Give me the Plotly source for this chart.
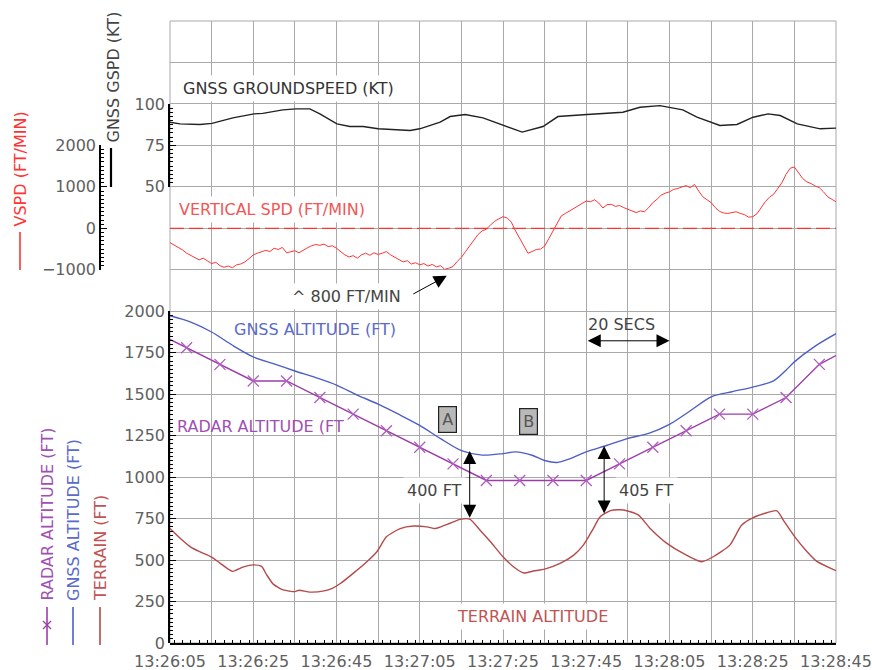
import pandas as pd
import plotly.graph_objects as go

# ---------------- data (seconds after 13:26:05) ----------------
T0 = pd.Timestamp("2000-01-01 13:26:05")
T_END_S = 160

gspd_s = [0, 2.4, 7.2, 10.1, 15.1, 20.2, 22.3, 27.1, 30.3, 33.6, 36, 40.1, 43.2, 46.4, 50,
          57.7, 60, 62.5, 64.9, 67.3, 70.9, 75.2, 80, 84.6, 89.6, 93.2, 100.2, 108.8, 112.9,
          117.7, 123.2, 126.6, 132.1, 136.2, 140.1, 143.7, 146.6, 150.7, 156.2, 160]
gspd_kt = [89, 88, 87.6, 88.3, 91.6, 94, 94.3, 96.4, 97, 97, 94, 88, 86.4, 86.4, 85,
           84, 85, 86.8, 89, 92.4, 93.6, 91.6, 87, 83, 86.4, 92.4, 93.6, 95, 98,
           99, 96.4, 92, 87, 87.6, 92, 94, 93, 88, 85, 85.4]

vspd_s = list(range(0, 161))
vspd_fpm = [-346, -400, -460, -520, -600, -650, -690, -760, -720, -790,
            -850, -820, -900, -940, -910, -950, -880, -860, -810, -730,
            -640, -600, -570, -530, -560, -480, -510, -460, -590, -560,
            -540, -590, -520, -470, -420, -390, -410, -380, -440, -420,
            -480, -560, -640, -690, -660, -720, -640, -600, -650, -590,
            -630, -600, -560, -640, -700, -760, -810, -780, -860, -830,
            -880, -850, -910, -870, -930, -900, -990, -960, -920, -800,
            -700, -560, -420, -300, -150, -60, -20, 80, 170, 230,
            280, 250, 150, -60, -250, -430, -600, -560, -510, -500,
            -430, -250, -60, 120, 300, 360, 420, 460, 540, 600,
            660, 640, 690, 610, 490, 570, 580, 530, 550, 500,
            460, 430, 380, 420, 400, 500, 620, 700, 800, 850,
            880, 940, 960, 1000, 1030, 980, 1060, 900, 760, 690,
            620, 500, 410, 370, 360, 380, 400, 360, 330, 270,
            280, 350, 500, 640, 750, 820, 960, 1100, 1300, 1450,
            1480, 1350, 1200, 1120, 1080, 1020, 980, 880, 760, 700,
            640]

gnss_s = [0, 5, 10, 15, 20, 25, 30, 35, 40, 45, 50, 55, 60, 65, 70, 75, 80, 83, 87,
          90, 93, 96, 100, 105, 110, 115, 120, 125, 130, 135, 140, 145, 148, 150, 155, 160]
gnss_alt = [1973, 1935, 1875, 1795, 1725, 1683, 1640, 1600, 1555, 1495, 1440, 1378, 1312,
            1232, 1160, 1133, 1142, 1152, 1132, 1100, 1088, 1110, 1152, 1192, 1234, 1264,
            1318, 1400, 1484, 1515, 1543, 1580, 1645, 1695, 1790, 1865]

radar_s = [0, 4, 12, 20, 28, 36, 44, 52, 60, 68, 76, 84, 92, 100, 108, 116, 124, 132,
           140, 148, 156, 160]
radar_alt = [1830, 1780, 1680, 1580, 1580, 1480, 1380, 1280, 1180, 1080, 980, 980, 980,
             980, 1080, 1180, 1280, 1380, 1380, 1480, 1680, 1733]

terrain_s = [0, 2.5, 5, 7, 10, 12, 15, 17.5, 20, 22, 23.2, 24.8, 27.2, 30, 31, 33.6, 37, 39,
             41, 44, 47.3, 49.7, 52, 55.3, 58.5, 61.7, 63.7, 65, 67.3, 69.7, 72, 74.5, 77,
             80, 82.5, 85, 87.3, 90, 93.7, 97, 99.3, 101.7, 103.3, 106, 109, 112.5, 115.3,
             119.3, 123.3, 127.7, 130.5, 134.5, 137.3, 140, 145.8, 147.3, 150.2, 153, 155.4, 160]
terrain_alt = [690, 630, 578, 552, 518, 482, 432, 457, 471, 462, 412, 355, 320, 310, 318, 307,
               314, 330, 360, 420, 490, 550, 640, 690, 705, 700, 690, 700, 722, 745, 747, 680,
               610, 520, 460, 422, 434, 445, 480, 530, 590, 690, 760, 800, 802, 772, 692,
               602, 540, 490, 520, 590, 710, 755, 797, 742, 637, 552, 492, 436]

alt_ticks = [0, 250, 500, 750, 1000, 1250, 1500, 1750, 2000]
gspd_ticks = [50, 75, 100]
vspd_ticks = [-1000, 0, 1000, 2000]


def ts(secs):
    return [T0 + pd.Timedelta(seconds=float(s)) for s in secs]


# ---------------- layout geometry helpers ----------------
W, H = 872, 670
ML, MR, MT, MB = 0, 36, 21, 27
PW, PH = W - ML - MR, H - MT - MB


def px(xpix):
    return (xpix - ML) / PW


def py(ypix):
    return (H - MB - ypix) / PH


FONT = "DejaVu Sans"
GRID = "#a9a9a9"
TXT = "#606060"
C_GSPD = "#222222"
C_VSPD = "#ff3434"
C_GNSS = "#4d5ec6"
C_RADAR = "#9a3ea8"
C_TERR = "#b54a4a"

fig = go.Figure()

fig.add_trace(go.Scatter(x=ts(gspd_s), y=gspd_kt, mode="lines", xaxis="x", yaxis="y3",
                         line=dict(color=C_GSPD, width=1.4), hoverinfo="skip"))
fig.add_trace(go.Scatter(x=ts(vspd_s), y=vspd_fpm, mode="lines", xaxis="x", yaxis="y4",
                         line=dict(color=C_VSPD, width=1), hoverinfo="skip"))
fig.add_trace(go.Scatter(x=ts(terrain_s), y=terrain_alt, mode="lines", xaxis="x", yaxis="y2",
                         line=dict(color=C_TERR, width=1.4, shape="spline", smoothing=0.6),
                         hoverinfo="skip"))
fig.add_trace(go.Scatter(x=ts(gnss_s), y=gnss_alt, mode="lines", xaxis="x", yaxis="y2",
                         line=dict(color=C_GNSS, width=1.4, shape="spline", smoothing=0.8),
                         hoverinfo="skip"))
fig.add_trace(go.Scatter(x=ts(radar_s), y=radar_alt, mode="lines", xaxis="x", yaxis="y2",
                         line=dict(color=C_RADAR, width=1.4), hoverinfo="skip"))
fig.add_trace(go.Scatter(x=ts(radar_s[1:-1]), y=radar_alt[1:-1], mode="markers", xaxis="x",
                         yaxis="y2",
                         marker=dict(symbol="x-thin", size=11, line=dict(color="#b05cc0", width=1.3)),
                         hoverinfo="skip"))

tickfont = dict(family=FONT, size=16, color=TXT)
common_y = dict(ticks="inside", ticklen=6, tickcolor="black", showline=True, linecolor="black",
                linewidth=1.5, showgrid=False, zeroline=False, tickfont=tickfont,
                automargin=False)

fig.update_layout(
    width=W, height=H,
    margin=dict(l=ML, r=MR, t=MT, b=MB, autoexpand=False),
    paper_bgcolor="white", plot_bgcolor="rgba(0,0,0,0)",
    showlegend=False,
    font=dict(family=FONT, size=16, color=TXT),
    xaxis=dict(domain=[px(170), 1], type="date",
               range=[T0, T0 + pd.Timedelta(seconds=T_END_S)],
               tick0=T0, dtick=10000, ticklabelstep=2, tickformat="%H:%M:%S",
               showgrid=True, gridcolor=GRID, gridwidth=1,
               ticks="inside", ticklen=6, tickcolor="black", ticklabelstandoff=3,
               minor=dict(dtick=2000, ticks="inside", ticklen=3, tickcolor="black", showgrid=False),
               showline=True, linecolor="black", linewidth=1.5, zeroline=False,
               tickfont=tickfont, anchor="y", automargin=False),
    yaxis=dict(domain=[0, 1], range=[0, 3750], tick0=0, dtick=250, showgrid=True,
               gridcolor=GRID, gridwidth=1, showticklabels=False, ticks="",
               showline=False, zeroline=False, anchor="x", automargin=False),
    yaxis2=dict(domain=[0, 8 / 15], range=[0, 2000], tickvals=alt_ticks, anchor="x",
                minor=dict(dtick=25, ticks="inside", ticklen=3, tickcolor="black", showgrid=False),
                **common_y),
    yaxis3=dict(domain=[11 / 15, 13 / 15], range=[50, 100], tickvals=gspd_ticks, anchor="x",
                minor=dict(dtick=2.5, ticks="inside", ticklen=3, tickcolor="black", showgrid=False),
                **common_y),
    yaxis4=dict(domain=[9 / 15, 12 / 15], range=[-1000, 2000], tickvals=vspd_ticks,
                anchor="free", position=px(100),
                minor=dict(dtick=100, ticks="inside", ticklen=3, tickcolor="black", showgrid=False),
                **common_y),
)

shapes = [
    # plot frame
    dict(type="rect", xref="x domain", yref="y domain", x0=0, x1=1, y0=0, y1=1,
         line=dict(color=GRID, width=1), layer="below"),
    # VSPD zero reference (dashed)
    dict(type="line", xref="x domain", yref="y4", x0=0, x1=1, y0=0, y1=0,
         line=dict(color=C_VSPD, width=1.2, dash="14px,5px"), layer="above"),
    # legend swatches beside rotated titles
    dict(type="line", xref="paper", yref="paper", x0=px(111), x1=px(111), y0=py(148), y1=py(187),
         line=dict(color="black", width=2.2)),
    dict(type="line", xref="paper", yref="paper", x0=px(20), x1=px(20), y0=py(232), y1=py(270),
         line=dict(color=C_VSPD, width=1.6)),
    dict(type="line", xref="paper", yref="paper", x0=px(47), x1=px(47), y0=py(607), y1=py(645),
         line=dict(color=C_RADAR, width=1.6)),
    dict(type="line", xref="paper", yref="paper", x0=px(43), x1=px(51), y0=py(621), y1=py(629),
         line=dict(color=C_RADAR, width=1.3)),
    dict(type="line", xref="paper", yref="paper", x0=px(43), x1=px(51), y0=py(629), y1=py(621),
         line=dict(color=C_RADAR, width=1.3)),
    dict(type="line", xref="paper", yref="paper", x0=px(73), x1=px(73), y0=py(607), y1=py(645),
         line=dict(color=C_GNSS, width=1.6)),
    dict(type="line", xref="paper", yref="paper", x0=px(100), x1=px(100), y0=py(607), y1=py(645),
         line=dict(color=C_TERR, width=1.6)),
]
fig.update_layout(shapes=shapes)

ann = []
# rotated axis titles
for text, xpix, ybot, col in [
    ("GNSS GSPD (KT)", 113, 145, "#444444"),
    ("VSPD (FT/MIN)", 20, 229, C_VSPD),
    ("RADAR ALTITUDE (FT)", 47, 603, "#a050b2"),
    ("GNSS ALTITUDE (FT)", 73, 603, "#5a6bc8"),
    ("TERRAIN (FT)", 100, 603, "#c05454"),
]:
    ann.append(dict(text=text, xref="paper", yref="paper", x=px(xpix), y=py(ybot),
                    xanchor="center", yanchor="bottom", textangle=-90, showarrow=False,
                    font=dict(family=FONT, size=16, color=col)))

# in-plot labels (masked background like the original)
for text, xpix, ypix, col, bg in [
    ("GNSS GROUNDSPEED (KT)", 179, 88, "#333333", "white"),
    ("VERTICAL SPD (FT/MIN)", 175, 209, "#f25656", "white"),
    ("GNSS ALTITUDE (FT)", 230, 329, "#5a6bc8", None),
    ("RADAR ALTITUDE (FT", 173, 427, "#a050b2", None),
    ("^ 800 FT/MIN", 288, 296, "#444444", "white"),
    ("400 FT", 403, 490, "#444444", "white"),
    ("405 FT", 615, 490, "#444444", "white"),
    ("20 SECS", 584, 324, "#444444", None),
    ("TERRAIN ALTITUDE", 453, 616, "#c05454", "white"),
]:
    d = dict(text=text, xref="paper", yref="paper", x=px(xpix), y=py(ypix),
             xanchor="left", yanchor="middle", showarrow=False, borderpad=3,
             font=dict(family=FONT, size=16, color=col))
    if bg:
        d["bgcolor"] = bg
    ann.append(d)

# A / B boxes
for text, xpix, ypix in [("A", 447, 419), ("B", 528, 421)]:
    ann.append(dict(text=text, xref="paper", yref="paper", x=px(xpix), y=py(ypix),
                    xanchor="center", yanchor="middle", showarrow=False,
                    bgcolor="#b9b9b9", bordercolor="#222222", borderwidth=1.2, borderpad=3,
                    font=dict(family=FONT, size=16, color="#555555")))

ARW = dict(showarrow=True, arrowhead=2, arrowsize=2.6, arrowwidth=1, arrowcolor="black", text="")
# 800 ft/min pointer
ann.append(dict(x=T0 + pd.Timedelta(seconds=66.5), y=2214, xref="x", yref="y",
                ax=-35, ay=19, **ARW))
# 400 ft
ann.append(dict(x=T0 + pd.Timedelta(seconds=72), y=1157, xref="x", yref="y2",
                ax=T0 + pd.Timedelta(seconds=72), ay=746, axref="x", ayref="y2",
                arrowside="end+start", **ARW))
# 405 ft
ann.append(dict(x=T0 + pd.Timedelta(seconds=104.3), y=1188, xref="x", yref="y2",
                ax=T0 + pd.Timedelta(seconds=104.3), ay=772, axref="x", ayref="y2",
                arrowside="end+start", **ARW))
# 20 secs
ann.append(dict(x=T0 + pd.Timedelta(seconds=120), y=1822, xref="x", yref="y2",
                ax=T0 + pd.Timedelta(seconds=100), ay=1822, axref="x", ayref="y2",
                arrowside="end+start", **ARW))

fig.update_layout(annotations=ann)

fig.write_html("out.html")
